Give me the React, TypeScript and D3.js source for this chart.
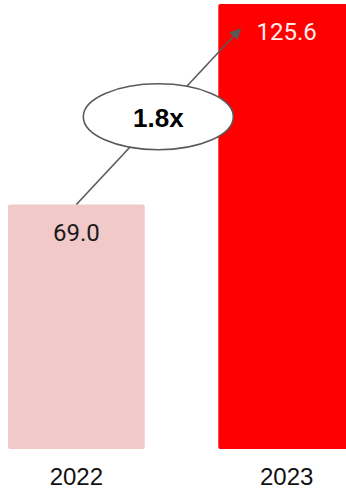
import React from "react";
import * as d3 from "d3";

// Annual totals
const years: string[] = ["2022", "2023"];
const totals: number[] = [69.0, 125.6];
const barColors: string[] = ["#F2C9C9", "#FF0000"];
const labelColors: string[] = ["#1a1a1a", "#FFEDED"];
const growthLabel = "1.8x";

const W = 346;
const H = 490;

export default function App() {
  const x = d3
    .scaleBand<string>()
    .domain(years)
    .range([8, 355])
    .paddingInner(0.35)
    .paddingOuter(0);

  const y = d3.scaleLinear().domain([0, d3.max(totals) as number]).range([449, 4]);

  const bw = x.bandwidth();

  // Growth arrow from the first bar's top to the second bar's value label
  const x0 = (x(years[0]) as number) + bw / 2;
  const y0 = y(totals[0]);
  const x1 = (x(years[1]) as number) + 22;
  const y1 = y(totals[1]) + 25;
  const mx = (x0 + x1) / 2;
  const my = (y0 + y1) / 2;

  const line = d3.line<[number, number]>();

  return (
    <div style={{ position: "absolute", left: 0, top: 0, width: W, height: H, background: "#fff" }}>
      <svg width={W} height={H} style={{ display: "block" }}>
        <defs>
          <marker
            id="growth-head"
            viewBox="0 0 10 10"
            refX="9"
            refY="5"
            markerWidth="7"
            markerHeight="7"
            markerUnits="strokeWidth"
            orient="auto"
          >
            <path d="M0,0 L10,5 L0,10 z" fill="#595959" />
          </marker>
        </defs>

        {years.map((yr, i) => (
          <g key={yr}>
            <rect
              x={x(yr)}
              y={y(totals[i])}
              width={bw}
              height={y(0) - y(totals[i])}
              rx={2}
              fill={barColors[i]}
            />
            <text
              x={(x(yr) as number) + bw / 2}
              y={y(totals[i]) + 36}
              textAnchor="middle"
              fontFamily="Roboto, 'Noto Sans', sans-serif"
              fontSize={24}
              fill={labelColors[i]}
            >
              {totals[i].toFixed(1)}
            </text>
            <text
              x={(x(yr) as number) + bw / 2}
              y={485}
              textAnchor="middle"
              fontFamily="'Liberation Sans', Arial, sans-serif"
              fontSize={24}
              fill="#111"
            >
              {yr}
            </text>
          </g>
        ))}

        <path
          d={line([
            [x0, y0],
            [x1, y1],
          ]) as string}
          stroke="#595959"
          strokeWidth={1.6}
          fill="none"
          markerEnd="url(#growth-head)"
        />

        <ellipse cx={mx} cy={my} rx={75} ry={33} fill="#fff" stroke="#595959" strokeWidth={1.6} />
        <text
          x={mx}
          y={my + 10}
          textAnchor="middle"
          fontFamily="'Liberation Sans', Arial, sans-serif"
          fontWeight="bold"
          fontSize={26}
          fill="#000"
        >
          {growthLabel}
        </text>
      </svg>
    </div>
  );
}
